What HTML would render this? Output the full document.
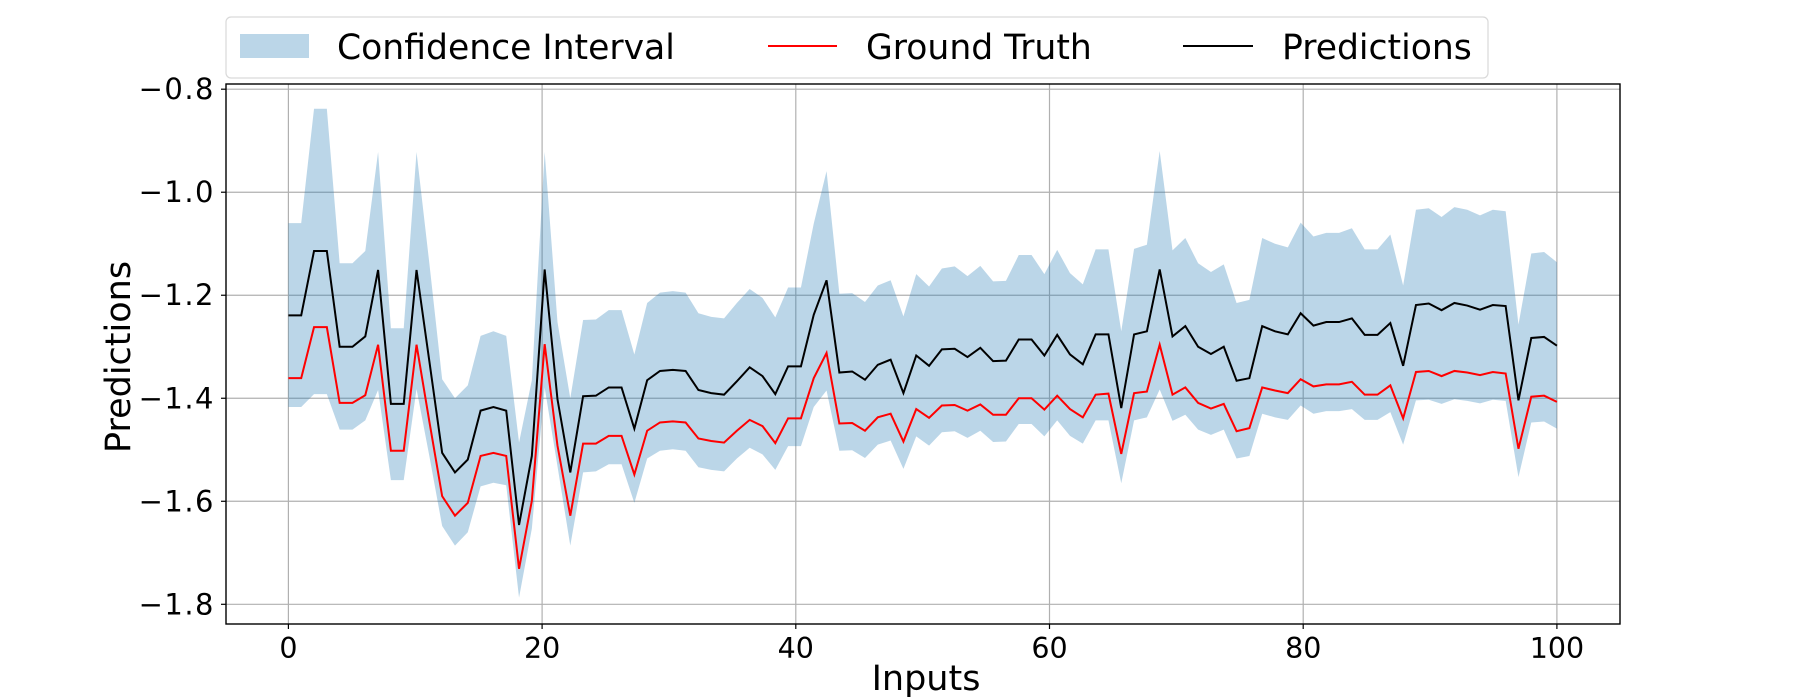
<!DOCTYPE html>
<html><head><meta charset="utf-8">
<style>
html,body{margin:0;padding:0;background:#fff;}
svg{display:block;font-family:"DejaVu Sans","Liberation Sans",sans-serif;}
</style></head>
<body>
<svg id="chart" width="1800" height="700" viewBox="0 0 1800 700" xmlns="http://www.w3.org/2000/svg">
<g id="grid"></g>
<g id="series"></g>
<rect x="226" y="84" width="1394" height="540" fill="none" stroke="#000" stroke-width="1.4"/>
<g id="ticks"></g>
<text x="926" y="690" font-size="35" text-anchor="middle">Inputs</text>
<text x="0" y="0" font-size="35" text-anchor="middle" transform="translate(130,357) rotate(-90)">Predictions</text>
<g>
<rect x="226" y="17" width="1262" height="61" rx="5" fill="#fff" stroke="#d9d9d9" stroke-width="1.2"/>
<g>
<rect x="240" y="34" width="69" height="24" fill="#1f77b4" fill-opacity="0.3"/>
<text x="337" y="59" font-size="34.6">Confidence Interval</text>
</g>
<g>
<line x1="768" y1="46" x2="837" y2="46" stroke="#ff0000" stroke-width="2"/>
<text x="866" y="59" font-size="34.6">Ground Truth</text>
</g>
<g>
<line x1="1183" y1="46" x2="1253" y2="46" stroke="#000" stroke-width="2"/>
<text x="1282" y="59" font-size="34.6">Predictions</text>
</g>
</g>
</svg>
<script>
const predictions = [-1.239,-1.239,-1.114,-1.114,-1.300,-1.300,-1.280,-1.151,-1.411,-1.411,-1.151,-1.328,-1.506,-1.544,-1.519,-1.424,-1.417,-1.424,-1.646,-1.512,-1.150,-1.402,-1.544,-1.396,-1.395,-1.379,-1.379,
-1.459,-1.365,-1.347,-1.345,-1.347,-1.384,-1.390,-1.393,-1.367,-1.340,-1.357,-1.392,-1.338,-1.338,-1.238,-1.171,-1.350,-1.348,-1.364,-1.335,-1.325,-1.390,-1.317,-1.337,-1.305,
-1.304,-1.320,-1.302,-1.328,-1.327,-1.286,-1.286,-1.317,-1.277,-1.315,-1.334,-1.276,-1.276,-1.419,-1.276,-1.270,-1.150,-1.280,-1.260,-1.300,-1.314,-1.300,-1.366,-1.361,
-1.260,-1.270,-1.276,-1.235,-1.259,-1.252,-1.252,-1.245,-1.277,-1.277,-1.254,-1.337,-1.219,-1.216,-1.229,-1.215,-1.220,-1.228,-1.219,-1.221,-1.404,-1.283,-1.281,-1.298];
const groundTruth = [-1.361,-1.361,-1.262,-1.262,-1.409,-1.409,-1.394,-1.296,-1.502,-1.502,-1.296,-1.445,-1.590,-1.628,-1.603,-1.512,-1.506,-1.512,-1.731,-1.599,-1.295,-1.492,-1.628,-1.488,-1.488,-1.473,-1.473,
-1.548,-1.463,-1.447,-1.445,-1.447,-1.478,-1.483,-1.486,-1.463,-1.442,-1.454,-1.487,-1.439,-1.439,-1.361,-1.312,-1.449,-1.448,-1.463,-1.437,-1.430,-1.484,-1.421,-1.438,-1.414,
-1.413,-1.424,-1.412,-1.432,-1.432,-1.400,-1.400,-1.422,-1.395,-1.421,-1.437,-1.393,-1.391,-1.508,-1.390,-1.387,-1.296,-1.393,-1.379,-1.409,-1.420,-1.411,-1.464,-1.458,
-1.379,-1.385,-1.390,-1.363,-1.377,-1.373,-1.373,-1.368,-1.393,-1.393,-1.375,-1.439,-1.349,-1.347,-1.357,-1.347,-1.350,-1.355,-1.349,-1.352,-1.498,-1.397,-1.395,-1.407];
const ciUpper = [-1.060,-1.060,-0.838,-0.838,-1.138,-1.138,-1.114,-0.922,-1.264,-1.264,-0.922,-1.138,-1.363,-1.400,-1.375,-1.279,-1.270,-1.279,-1.486,-1.365,-0.922,-1.252,-1.400,-1.248,-1.247,-1.229,-1.229,
-1.315,-1.215,-1.195,-1.192,-1.195,-1.235,-1.242,-1.245,-1.215,-1.188,-1.205,-1.243,-1.185,-1.185,-1.061,-0.959,-1.197,-1.196,-1.213,-1.181,-1.171,-1.241,-1.159,-1.183,-1.148,
-1.144,-1.163,-1.143,-1.173,-1.172,-1.122,-1.122,-1.159,-1.112,-1.157,-1.179,-1.111,-1.111,-1.270,-1.110,-1.102,-0.920,-1.113,-1.089,-1.138,-1.155,-1.140,-1.215,-1.209,
-1.089,-1.100,-1.107,-1.059,-1.086,-1.079,-1.079,-1.070,-1.111,-1.111,-1.082,-1.181,-1.034,-1.031,-1.048,-1.029,-1.034,-1.045,-1.034,-1.037,-1.257,-1.119,-1.116,-1.136];
const ciLower = [-1.417,-1.417,-1.392,-1.392,-1.461,-1.461,-1.443,-1.384,-1.559,-1.559,-1.382,-1.512,-1.648,-1.686,-1.660,-1.571,-1.564,-1.569,-1.787,-1.653,-1.379,-1.532,-1.686,-1.544,-1.542,-1.528,-1.528,
-1.603,-1.517,-1.502,-1.499,-1.502,-1.534,-1.539,-1.542,-1.517,-1.496,-1.509,-1.539,-1.493,-1.493,-1.417,-1.385,-1.502,-1.501,-1.516,-1.490,-1.482,-1.537,-1.474,-1.492,-1.466,
-1.464,-1.477,-1.463,-1.485,-1.484,-1.450,-1.450,-1.474,-1.443,-1.473,-1.488,-1.443,-1.443,-1.565,-1.443,-1.437,-1.383,-1.444,-1.432,-1.461,-1.471,-1.461,-1.517,-1.512,
-1.430,-1.437,-1.442,-1.414,-1.430,-1.425,-1.425,-1.421,-1.442,-1.442,-1.427,-1.490,-1.404,-1.403,-1.411,-1.402,-1.405,-1.410,-1.403,-1.405,-1.553,-1.447,-1.445,-1.459];
const xTicks = [0,20,40,60,80,100];
const yTicks = [-0.8,-1.0,-1.2,-1.4,-1.6,-1.8];
const yTickLabels = ["\u22120.8","\u22121.0","\u22121.2","\u22121.4","\u22121.6","\u22121.8"];

const NS = "http://www.w3.org/2000/svg";
const xs = v => 288.4 + v * 12.685;
const ys = v => 89.2 + (-0.8 - v) * 515.1;
const n = predictions.length;
const xval = i => i * 100 / (n - 1);

function mk(tag, attrs, parent){
  const el = document.createElementNS(NS, tag);
  for (const k in attrs) el.setAttribute(k, attrs[k]);
  parent.appendChild(el);
  return el;
}
const grid = document.getElementById('grid');
const ticks = document.getElementById('ticks');
const series = document.getElementById('series');

xTicks.forEach(t => {
  const g = mk('line', {x1: xs(t), x2: xs(t), y1: 84, y2: 624, stroke: '#b0b0b0', 'stroke-width': 1.2}, grid);
  
  
  const tk = mk('line', {x1: xs(t), x2: xs(t), y1: 624, y2: 629, stroke: '#000', 'stroke-width': 1.2}, ticks);
  
  
  const tl = mk('text', {x: xs(t), y: 658, 'font-size': 28.5, 'text-anchor': 'middle'}, ticks);
  tl.textContent = String(t);
  
  
});
yTicks.forEach((t, k) => {
  const g = mk('line', {x1: 226, x2: 1620, y1: ys(t), y2: ys(t), stroke: '#b0b0b0', 'stroke-width': 1.2}, grid);
  
  
  const tk = mk('line', {x1: 221, x2: 226, y1: ys(t), y2: ys(t), stroke: '#000', 'stroke-width': 1.2}, ticks);
  
  
  const tl = mk('text', {x: 215, y: ys(t) + 10, 'font-size': 29, 'text-anchor': 'end', 'letter-spacing': 1.5}, ticks);
  tl.textContent = yTickLabels[k];
  
  
});

let up = [], lo = [];
for (let i = 0; i < n; i++) up.push(xs(xval(i)).toFixed(2) + ',' + ys(ciUpper[i]).toFixed(2));
for (let i = n - 1; i >= 0; i--) lo.push(xs(xval(i)).toFixed(2) + ',' + ys(ciLower[i]).toFixed(2));
const band = mk('polygon', {points: up.concat(lo).join(' '), fill: '#1f77b4', 'fill-opacity': 0.3}, series);



function line(arr, color){
  const pts = arr.map((v, i) => xs(xval(i)).toFixed(2) + ',' + ys(v).toFixed(2)).join(' ');
  return mk('polyline', {points: pts, fill: 'none', stroke: color, 'stroke-width': 2, 'stroke-linejoin': 'miter'}, series);
}
const gt = line(groundTruth, '#ff0000');


const pr = line(predictions, '#000000');


</script>
</body></html>
